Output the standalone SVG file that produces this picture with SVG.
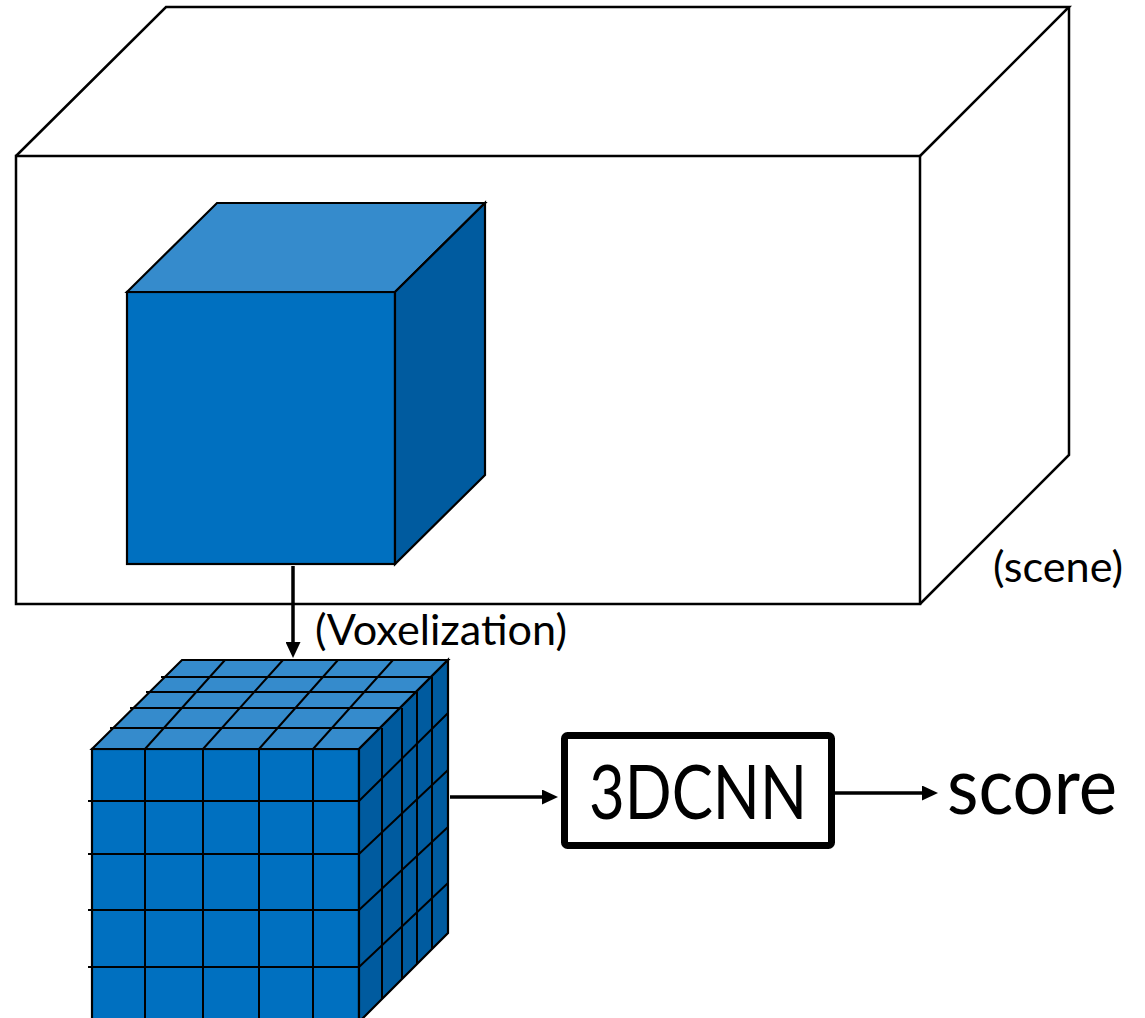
<svg xmlns="http://www.w3.org/2000/svg" width="1145" height="1018" viewBox="0 0 1145 1018">
  <style>
    .edge { fill: none; stroke: #000; stroke-width: 2.5; stroke-linejoin: miter; }
    .face { stroke: #000; stroke-width: 2.2; stroke-linejoin: miter; }
    .front { fill: #0070C0; }
    .top { fill: #358BCC; }
    .side { fill: #005B9F; }
    .grid { fill: none; stroke: #000; stroke-width: 2; }
    .wire { fill: none; stroke: #000; stroke-width: 3.5; }
    .label { font-family: Lato, "Open Sans", "Liberation Sans", sans-serif; fill: #000; }
  </style>
  <defs>
    <marker id="head" markerUnits="userSpaceOnUse" viewBox="0 0 16 15" refX="8" refY="7.5" markerWidth="16" markerHeight="15" orient="auto">
      <path d="M0,0 L16,7.5 L0,15 Z" fill="#000"/>
    </marker>
  </defs>

  <rect width="1145" height="1018" fill="#fff"/>

  <!-- scene volume: open box outline -->
  <g id="scene">
    <rect class="edge" x="16" y="156" width="904" height="448"/>
    <path class="edge" d="M16,156 L166,7 L1069,7 L920,156"/>
    <path class="edge" d="M1069,7 L1069,455 L920,604"/>
    <text class="label" x="993" y="582" font-size="42" textLength="130" lengthAdjust="spacingAndGlyphs">(scene)</text>
  </g>

  <!-- solid object cube inside the scene -->
  <g id="object-cube">
    <rect class="face front" x="127" y="292" width="268" height="272"/>
    <path class="face top" d="M127,292 L217,203 L485,203 L395,292 Z"/>
    <path class="face side" d="M395,292 L485,203 L485,475 L395,564 Z"/>
  </g>

  <!-- voxelized cube: 5x5x5 grid -->
  <g id="voxel-grid">
    <rect class="face front" x="92" y="749" width="267" height="290"/>
    <path class="face top" d="M92,749 L182,660 L448,660 L359,749 Z"/>
    <path class="face side" d="M359,749 L448,660 L448,933 L359,1022 Z"/>
    <!-- front face cells -->
    <path class="grid" d="M145,749 V1030 M203,749 V1030 M259,749 V1030 M313,749 V1030
                          M88,801 H359 M88,854 H359 M88,910 H359 M88,967 H359"/>
    <!-- top face cells -->
    <path class="grid" d="M161,677 H431 M146,692 H416 M130,708 H400 M110,728 H380
                          M145,749 L225,660 M203,749 L283,660 M259,749 L338,660 M313,749 L393,660"/>
    <!-- side face cells -->
    <path class="grid" d="M382,728 V999 M402,708 V979 M417,692 V964 M432,677 V949
                          M359,801 L448,713 M359,854 L448,770 M359,910 L448,827 M359,967 L448,883"/>
  </g>

  <!-- network block -->
  <g id="cnn">
    <rect x="564.5" y="735.5" width="267" height="110" rx="3" fill="#fff" stroke="#000" stroke-width="7"/>
    <text class="label" x="589" y="819" font-size="76" textLength="218" lengthAdjust="spacingAndGlyphs">3DCNN</text>
  </g>

  <g id="score">
    <text class="label" x="947" y="814" font-size="80" textLength="170" lengthAdjust="spacingAndGlyphs">score</text>
  </g>

  <!-- connectors -->
  <g id="connectors">
    <line class="wire" x1="293" y1="566" x2="293" y2="650" marker-end="url(#head)"/>
    <text class="label" x="315" y="645" font-size="42" textLength="252" lengthAdjust="spacingAndGlyphs">(Voxelization)</text>
    <line class="wire" x1="450" y1="797" x2="550" y2="797" marker-end="url(#head)"/>
    <line class="wire" x1="835" y1="793" x2="930" y2="793" marker-end="url(#head)"/>
  </g>
</svg>
